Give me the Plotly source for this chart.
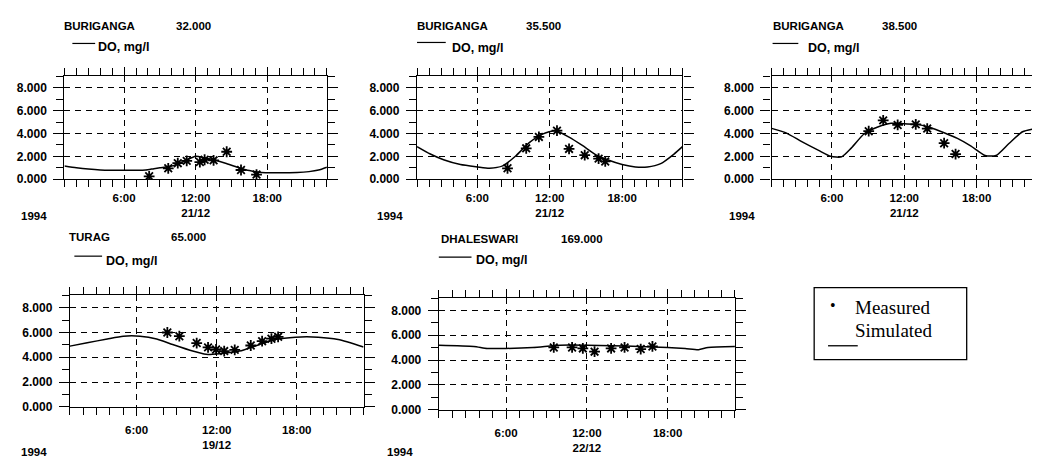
import plotly.graph_objects as go

W, H = 1040, 459

# ---------------- data ----------------
stations = ["BURIGANGA", "BURIGANGA", "BURIGANGA", "TURAG", "DHALESWARI"]
chainages = ["32.000", "35.500", "38.500", "65.000", "169.000"]
dates = ["21/12", "21/12", "21/12", "19/12", "22/12"]
year_label = "1994"
hour_ticks = [6, 12, 18]
hour_labels = ["6:00", "12:00", "18:00"]
do_ticks = [0, 2, 4, 6, 8]

p1_sim_h = [1, 2, 3, 4, 5, 6, 7, 7.8, 8.5, 9, 10, 11, 12, 12.7, 13.5, 14.5, 15.5, 16.5, 17.5, 18.5, 19.5, 20.5, 21.5, 22.3, 23]
p1_sim_v = [1.15, 1.0, 0.88, 0.8, 0.78, 0.78, 0.78, 0.8, 0.92, 1.0, 1.15, 1.55, 2.0, 1.88, 1.7, 1.4, 1.05, 0.75, 0.58, 0.55, 0.56, 0.58, 0.66, 0.8, 1.05]
p1_obs_h = [8.1, 9.7, 10.5, 11.25, 12.35, 12.75, 13.5, 14.6, 15.8, 17.1]
p1_obs_v = [0.25, 0.95, 1.4, 1.6, 1.5, 1.7, 1.65, 2.4, 0.8, 0.4]

p2_sim_h = [1, 2.1, 3.2, 4.6, 6.0, 7.0, 8.1, 9.2, 10.3, 11.4, 12.5, 13.6, 14.7, 15.8, 16.9, 18.0, 19.1, 20.1, 21.2, 22.3, 23]
p2_sim_v = [2.85, 2.2, 1.7, 1.28, 1.07, 0.95, 1.16, 2.05, 3.2, 3.95, 4.25, 3.68, 2.95, 2.15, 1.65, 1.28, 1.07, 1.07, 1.36, 2.2, 2.85]
p2_obs_h = [8.5, 10.05, 11.1, 12.6, 13.6, 14.9, 16.05, 16.6]
p2_obs_v = [0.95, 2.7, 3.7, 4.25, 2.65, 2.1, 1.8, 1.55]

p3_sim_h = [1, 2.2, 3.5, 4.9, 5.9, 6.8, 7.6, 8.7, 9.8, 10.9, 12.0, 13.1, 14.2, 15.3, 16.4, 17.5, 18.7, 19.6, 20.7, 21.8, 23]
p3_sim_v = [4.45, 4.06, 3.29, 2.52, 2.0, 1.95, 2.72, 4.0, 4.57, 4.9, 4.85, 4.8, 4.5, 4.06, 3.57, 2.92, 2.07, 2.07, 3.15, 4.15, 4.45]
p3_obs_h = [9.05, 10.25, 11.45, 12.95, 13.9, 15.3, 16.25]
p3_obs_v = [4.2, 5.15, 4.75, 4.8, 4.43, 3.15, 2.2]

p4_sim_h = [1, 2.3, 3.8, 5.0, 6.25, 7.5, 8.7, 10.2, 11.2, 12.2, 13.7, 15.2, 16.4, 17.9, 19.6, 21.1, 23]
p4_sim_v = [4.9, 5.17, 5.48, 5.7, 5.7, 5.48, 5.03, 4.5, 4.24, 4.29, 4.5, 5.03, 5.43, 5.62, 5.62, 5.43, 4.83]
p4_obs_h = [8.3, 9.2, 10.5, 11.35, 11.95, 12.56, 13.35, 14.55, 15.4, 16.1, 16.6]
p4_obs_v = [6.0, 5.7, 5.15, 4.8, 4.63, 4.5, 4.6, 4.95, 5.3, 5.5, 5.65]

p5_sim_h = [1, 3.6, 4.6, 6.0, 8.0, 10.0, 12.0, 13.9, 15.9, 18.0, 19.3, 20.3, 21.0, 23]
p5_sim_v = [5.2, 5.1, 4.94, 4.94, 5.02, 5.2, 5.2, 5.16, 5.1, 5.02, 4.94, 4.84, 5.02, 5.1]
p5_obs_h = [9.54, 10.9, 11.7, 12.57, 13.8, 14.8, 16.0, 16.87]
p5_obs_v = [5.02, 5.02, 4.94, 4.68, 4.94, 5.02, 4.89, 5.1]

sims = [(p1_sim_h, p1_sim_v), (p2_sim_h, p2_sim_v), (p3_sim_h, p3_sim_v), (p4_sim_h, p4_sim_v), (p5_sim_h, p5_sim_v)]
obss = [(p1_obs_h, p1_obs_v), (p2_obs_h, p2_obs_v), (p3_obs_h, p3_obs_v), (p4_obs_h, p4_obs_v), (p5_obs_h, p5_obs_v)]

# ---------------- layout geometry (pixels) ----------------
def px(x):
    return x / W

def py(y):
    return 1 - y / H

# (left, right, top, bottom) of each plot frame in pixels
frames = [
    (57, 322, 69.5, 173.8),
    (413, 681, 69.5, 173.8),
    (771, 1039, 69.5, 173.8),
    (62.5, 359, 291.8, 405.0),
    (435, 734, 294.5, 408.0),
]
# header positions: title x, chainage x, title y, legend line x0,x1,y, legend text x,y, year x,y
headers = [
    (55, 168, 18, 65, 88, 36, 89, 40, 11, 211),
    (411, 521, 18, 413, 442, 35, 446, 41, 371, 211),
    (770, 880, 18, 772, 798, 36, 806, 41, 726, 211),
    (60, 163, 233, 67, 95, 252, 97, 257, 11, 451),
    (435, 556, 235, 435, 468, 253, 471, 256, 381, 451),
]

SANS = "Liberation Sans"
SERIF = "Liberation Serif"
fig = go.Figure()
annotations = []
shapes = []

for i in range(5):
    n = "" if i == 0 else str(i + 1)
    xa, ya = "x" + n, "y" + n
    sh, sv = sims[i]
    oh, ov = obss[i]
    fig.add_trace(go.Scatter(x=sh, y=sv, mode="lines", xaxis=xa, yaxis=ya,
                             line=dict(color="black", width=1.5, shape="spline", smoothing=0.6),
                             showlegend=False, hoverinfo="skip"))
    fig.add_trace(go.Scatter(x=oh, y=ov, mode="markers", xaxis=xa, yaxis=ya,
                             marker=dict(symbol="asterisk-open", size=9, color="black",
                                         line=dict(color="black", width=1.8)),
                             showlegend=False, hoverinfo="skip"))
    l, r, t, b = frames[i]
    bottom_row = i >= 3
    ticktext = [hour_labels[0], hour_labels[1] + "<br>" + dates[i], hour_labels[2]]
    axis_common = dict(showline=True, linecolor="black", linewidth=1.3, mirror="ticks",
                       ticks="outside", tickcolor="black", tickwidth=1.3,
                       showgrid=True, gridcolor="black", gridwidth=1.2, griddash="6px,5px",
                       zeroline=False, fixedrange=True)
    fig.layout["xaxis" + n] = dict(
        axis_common, domain=[px(l), px(r)], anchor=ya, range=[1, 23],
        tickvals=hour_ticks, ticktext=ticktext, ticklen=8,
        ticklabelstandoff=4 if bottom_row else 0,
        tickfont=dict(family=SANS, size=11.5, color="black", weight="bold"),
        minor=dict(dtick=1, tick0=0, ticklen=7, tickcolor="black", tickwidth=1.2,
                   ticks="outside", showgrid=False),
    )
    fig.layout["yaxis" + n] = dict(
        axis_common, domain=[py(b), py(t)], anchor=xa, range=[0, 9],
        tickvals=do_ticks, tickformat=".3f", ticklen=10, ticklabelstandoff=4,
        tickfont=dict(family=SANS, size=12, color="black", weight="bold"),
        minor=dict(dtick=1, tick0=0, ticklen=7, tickcolor="black", tickwidth=1.2,
                   ticks="outside", showgrid=False),
    )
    tx, cx, ty, lx0, lx1, ly, ltx, lty, yx, yy = headers[i]
    annotations.append(dict(x=px(tx), y=py(ty), xref="paper", yref="paper", text=stations[i],
                            showarrow=False, xanchor="left", yanchor="middle",
                            font=dict(family=SANS, size=11.5, color="black", weight="bold")))
    annotations.append(dict(x=px(cx), y=py(ty), xref="paper", yref="paper", text=chainages[i],
                            showarrow=False, xanchor="left", yanchor="middle",
                            font=dict(family=SANS, size=11.5, color="black", weight="bold")))
    annotations.append(dict(x=px(ltx), y=py(lty), xref="paper", yref="paper", text="DO, mg/l",
                            showarrow=False, xanchor="left", yanchor="middle",
                            font=dict(family=SANS, size=12.5, color="black", weight="bold")))
    annotations.append(dict(x=px(yx), y=py(yy), xref="paper", yref="paper", text=year_label,
                            showarrow=False, xanchor="left", yanchor="middle",
                            font=dict(family=SANS, size=11.5, color="black", weight="bold")))
    shapes.append(dict(type="line", xref="paper", yref="paper", x0=px(lx0), x1=px(lx1),
                       y0=py(ly), y1=py(ly), line=dict(color="black", width=1.2)))

# overall legend box
shapes.append(dict(type="rect", xref="paper", yref="paper", x0=px(814), x1=px(968),
                   y0=py(357), y1=py(284), line=dict(color="black", width=1.3)))
shapes.append(dict(type="line", xref="paper", yref="paper", x0=px(828), x1=px(858),
                   y0=py(343), y1=py(343), line=dict(color="black", width=1.3)))
annotations.append(dict(x=px(833), y=py(302), xref="paper", yref="paper", text="•",
                        showarrow=False, xanchor="center", yanchor="middle",
                        font=dict(family=SERIF, size=16, color="black")))
annotations.append(dict(x=px(853), y=py(304), xref="paper", yref="paper", text="Measured",
                        showarrow=False, xanchor="left", yanchor="middle",
                        font=dict(family=SERIF, size=19, color="black")))
annotations.append(dict(x=px(853), y=py(328), xref="paper", yref="paper", text="Simulated",
                        showarrow=False, xanchor="left", yanchor="middle",
                        font=dict(family=SERIF, size=19, color="black")))

fig.update_layout(width=W, height=H, margin=dict(l=0, r=0, t=0, b=0),
                  paper_bgcolor="white", plot_bgcolor="white",
                  annotations=annotations, shapes=shapes, showlegend=False)

fig.write_html("out.html", config={"displayModeBar": False})
